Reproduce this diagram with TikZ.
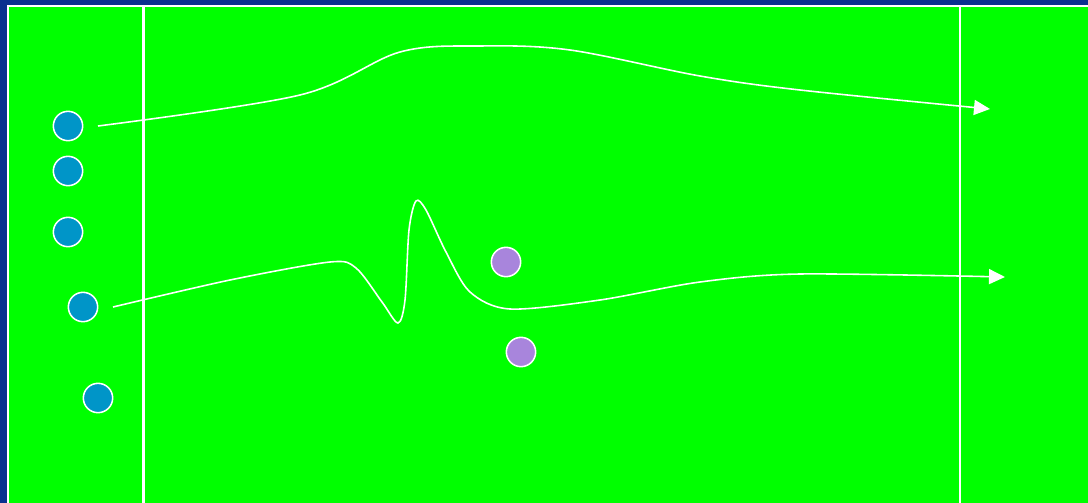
\documentclass[tikz,border=0pt]{standalone}
\usepackage{tikz}
\usetikzlibrary{arrows.meta}
\usetikzlibrary{positioning}

\definecolor{pitch}{RGB}{0,255,0}
\definecolor{frameblue}{RGB}{10,49,143}
\definecolor{teamA}{RGB}{0,149,200}
\definecolor{teamB}{RGB}{168,133,220}

\tikzset{
	player/.style={circle, draw=white, line width=1.3pt, minimum size=0.88cm, inner sep=0pt},
	attacker/.style={player, fill=teamA},
	defender/.style={player, fill=teamB},
	run/.style={draw=white, line width=1.35pt, -{Triangle[length=0.48cm, width=0.45cm]}},
	fieldline/.style={draw=white, line width=1.8pt}
}

\begin{document}
\begin{tikzpicture}[x=0.03cm, y=-0.03cm]
		% field
		\useasboundingbox (0,0) rectangle (1088,503);
		\fill[frameblue] (0,0) rectangle (1088,503);
		\fill[white] (6.5,4.5) rectangle (1088,503);
		\fill[pitch] (8.5,6.5) rectangle (1088,503);
		\draw[fieldline] (143.5,6.5) -- (143.5,503);
		\draw[fieldline] (960,6.5) -- (960,503);

		% players
		\node[attacker] (a1) at (68,126) {};
		\node[attacker] (a2) at (68,171) {};
		\node[attacker] (a3) at (68,232) {};
		\node[attacker] (a4) at (83,307) {};
		\node[attacker] (a5) at (98,398) {};
		\node[defender] (d1) at (506,262) {};
		\node[defender] (d2) at (521,352) {};

		% runs
		\coordinate (s1) at (98,126);
		\coordinate (e1) at (990,109);
		\coordinate (s2) at (113,307);
		\coordinate (e2) at (1005,277);
		\draw[run] plot[smooth, tension=0.55] coordinates {(s1) (300,95) (400,52) (480,46) (570,50) (700,76) (800,90) (e1)};
		\draw[run] plot[smooth, tension=0.5] coordinates {(s2) (230,280) (330,262) (356,268) (382,302) (398,323) (405,300) (409,230) (416,201) (426,210) (446,252) (470,292) (510,309) (600,300) (700,282) (800,274) (e2)};
	\end{tikzpicture}
\end{document}
